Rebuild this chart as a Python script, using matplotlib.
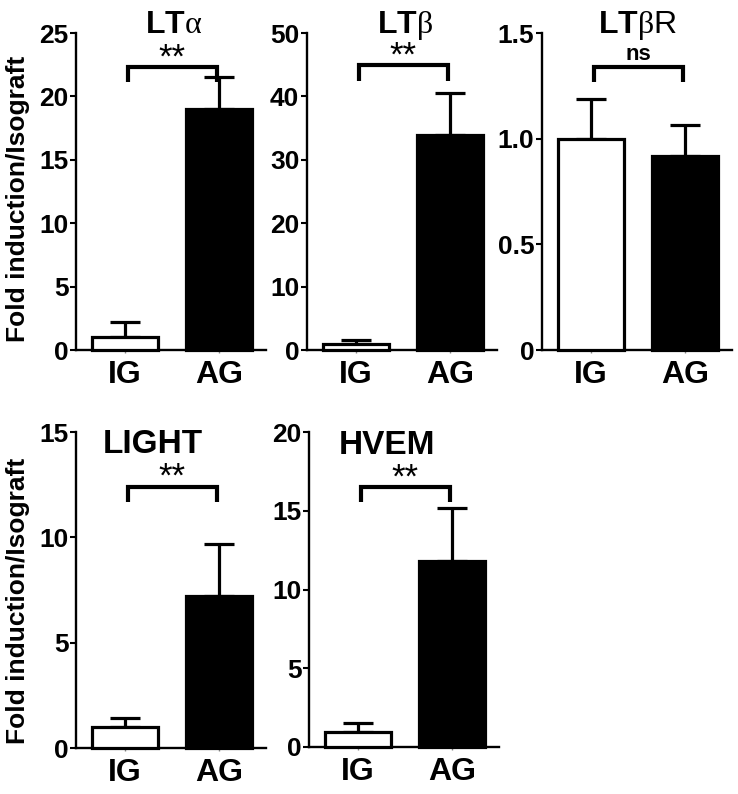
import matplotlib
matplotlib.use("Agg")
import matplotlib.pyplot as plt
import numpy as np

plt.rcParams["font.family"] = ["Liberation Sans", "DejaVu Sans"]
plt.rcParams["mathtext.fontset"] = "custom"
plt.rcParams["mathtext.bf"] = "Liberation Sans:bold"
plt.rcParams["mathtext.rm"] = "Liberation Serif:normal"
plt.rcParams["mathtext.sf"] = "Liberation Sans:normal"
plt.rcParams["mathtext.it"] = "Liberation Serif:italic"

# data
groups = ["IG", "AG"]
titles = [r"$\mathbf{LT}\mathrm{\alpha}$", r"$\mathbf{LT}\mathrm{\beta}$",
          r"$\mathbf{LT}\mathrm{\beta}\mathsf{R}$", "LIGHT", "HVEM"]
means = [[1.0, 19.0], [1.0, 33.9], [1.0, 0.92], [1.0, 7.2], [0.95, 11.8]]
errors = [[1.2, 2.5], [0.5, 6.6], [0.19, 0.145], [0.42, 2.5], [0.55, 3.4]]
signif = ["**", "**", "ns", "**", "**"]
bracket_tops = [22.3, 44.9, 1.34, 12.4, 16.5]
ymax = [25, 50, 1.5, 15, 20]
yticks = [[0, 5, 10, 15, 20, 25], [0, 10, 20, 30, 40, 50], [0, 0.5, 1.0, 1.5],
          [0, 5, 10, 15], [0, 5, 10, 15, 20]]
ytick_labels = [["0", "5", "10", "15", "20", "25"], ["0", "10", "20", "30", "40", "50"],
                ["0", "0.5", "1.0", "1.5"], ["0", "5", "10", "15"], ["0", "5", "10", "15", "20"]]
ylabel = "Fold induction/Isograft"

W, H = 738, 794
fig = plt.figure(figsize=(W / 100, H / 100), dpi=100)

# axes boxes in pixels: left, bottom(from top), width, height
boxes = [(76, 350, 190, 317), (307, 350, 190, 317), (542, 350, 190, 317),
         (76, 748, 190, 316), (309, 747, 190, 315)]
# title anchor (axes fraction)
title_pos = [(0.516, 1.0), (0.516, 1.0), (0.505, 1.0), (0.405, 0.934), (0.41, 0.93)]

x = np.arange(len(groups))
for i in range(5):
    l, b, w, h = boxes[i]
    ax = fig.add_axes([l / W, (H - b) / H, w / W, h / H])
    ax.bar(x, means[i], width=0.7, color=["white", "black"], edgecolor="black",
           linewidth=2.3, clip_on=False, zorder=3)
    ax.errorbar(x, means[i], yerr=[[0, 0], errors[i]], fmt="none", ecolor="black",
                elinewidth=2.3, capsize=11, capthick=2.3, zorder=2, clip_on=False)

    # significance bracket
    top = bracket_tops[i]
    drop = 0.048 * ymax[i]
    ax.plot([0.03, 0.03, 0.98, 0.98], [top - drop, top, top, top - drop], color="black",
            lw=3, solid_capstyle="butt", solid_joinstyle="miter", clip_on=False)
    if signif[i] == "**":
        ax.annotate(signif[i], xy=(0.505, top), xytext=(0, 0), textcoords="offset points",
                    ha="center", va="baseline", fontsize=25, fontweight="normal",
                    annotation_clip=False)
    else:
        ax.annotate(signif[i], xy=(0.505, top), xytext=(0, 5), textcoords="offset points",
                    ha="center", va="baseline", fontsize=16, fontweight="bold",
                    annotation_clip=False)

    ax.set_xlim(-0.52, 1.5)
    ax.set_ylim(0, ymax[i])
    ax.set_xticks(x)
    ax.set_xticklabels(groups, fontsize=23, fontweight="bold")
    ax.set_yticks(yticks[i])
    ax.set_yticklabels(ytick_labels[i], fontsize=19, fontweight="bold")
    ax.tick_params(axis="y", length=4.5, width=1.5, pad=1)
    ax.tick_params(axis="x", length=2, width=1, pad=5, color="#888888")
    for s in ["top", "right"]:
        ax.spines[s].set_visible(False)
    for s in ["left", "bottom"]:
        ax.spines[s].set_linewidth(1.7)
    ax.patch.set_visible(False)

    tx, ty = title_pos[i]
    ax.text(tx, ty, titles[i], transform=ax.transAxes, ha="center", va="baseline",
            fontsize=23 if i < 3 else 24, fontweight="bold")

fig.text(18 / W, 1 - 199 / H, ylabel, rotation=90, ha="center", va="center",
         fontsize=19, fontweight="bold")
fig.text(18 / W, 1 - 601 / H, ylabel, rotation=90, ha="center", va="center",
         fontsize=19, fontweight="bold")

fig.savefig("out.png", dpi=100)
